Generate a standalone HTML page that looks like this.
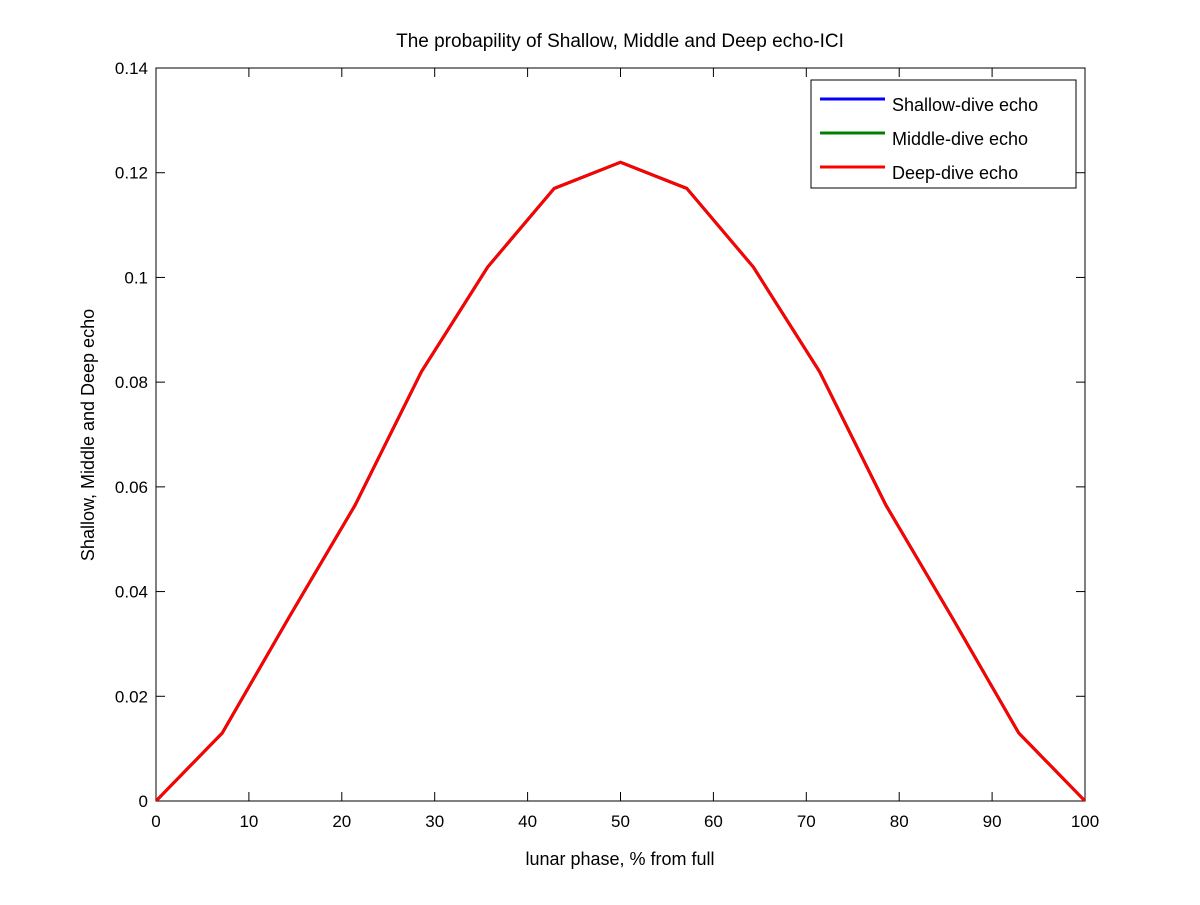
<!DOCTYPE html>
<html><head><meta charset="utf-8"><style>
body{margin:0;background:#fff;}
svg text{font-family:"Liberation Sans",sans-serif;fill:#000;}
</style></head><body>
<svg id="chart" width="1200" height="900">
<rect width="1200" height="900" fill="#fff"/>
<g id="plot"></g>
</svg>
<script>
const xVals=[0,3.57,7.14,14.29,21.43,28.57,35.71,42.86,50,57.14,64.29,71.43,78.57,85.71,92.86,96.43,100];
const shallow=[0,0.0065,0.013,0.035,0.0565,0.082,0.102,0.117,0.122,0.117,0.102,0.082,0.0565,0.035,0.013,0.0065,0];
const middle=shallow.slice();
const deep=shallow.slice();
const xTicks=[0,10,20,30,40,50,60,70,80,90,100];
const yTicks=[0,0.02,0.04,0.06,0.08,0.1,0.12,0.14];
const yTickLabels=["0","0.02","0.04","0.06","0.08","0.1","0.12","0.14"];
const seriesNames=["Shallow-dive echo","Middle-dive echo","Deep-dive echo"];
const seriesColors=["#0000ff","#008000","#ff0000"];

const L=156,R=1085,T=68,B=801;
const sx=v=>L+(v-0)/(100-0)*(R-L);
const sy=v=>B-(v-0)/(0.14-0)*(B-T);
const NS="http://www.w3.org/2000/svg";
const g=document.getElementById('plot');
function mk(tag,attrs,parent){const e=document.createElementNS(NS,tag);for(const k in attrs)e.setAttribute(k,attrs[k]);(parent||g).appendChild(e);return e;}

const frame=mk('rect',{x:L,y:T,width:R-L,height:B-T,fill:'#fff',stroke:'#000','stroke-width':1});



xTicks.forEach(t=>{
  const x=sx(t);
  const a=mk('line',{x1:x,x2:x,y1:B,y2:B-9,stroke:'#000'});
  
  
  mk('line',{x1:x,x2:x,y1:T,y2:T+9,stroke:'#000'});
  const tx=mk('text',{x:x,y:B+26,'text-anchor':'middle','font-size':17});
  tx.textContent=t;
  
  
});
yTicks.forEach((t,i)=>{
  const y=sy(t);
  const a=mk('line',{x1:L,x2:L+9,y1:y,y2:y,stroke:'#000'});
  
  
  mk('line',{x1:R,x2:R-9,y1:y,y2:y,stroke:'#000'});
  const tx=mk('text',{x:L-8,y:y+6,'text-anchor':'end','font-size':17});
  tx.textContent=yTickLabels[i];
  
  
});

[shallow,middle,deep].forEach((s,i)=>{
  const p=mk('polyline',{points:s.map((v,j)=>sx(xVals[j])+','+sy(v)).join(' '),fill:'none',stroke:seriesColors[i],'stroke-width':3,'stroke-linejoin':'round'});
  
  
});

const title=mk('text',{x:620,y:47,'text-anchor':'middle','font-size':19});
title.textContent='The probapility of Shallow, Middle and Deep echo-ICI';


const xt=mk('text',{x:620,y:865,'text-anchor':'middle','font-size':18});
xt.textContent='lunar phase, % from full';


const yt=mk('text',{x:0,y:0,'text-anchor':'middle','font-size':18,transform:'translate(94,435) rotate(-90)'});
yt.textContent='Shallow, Middle and Deep echo';



const lg=mk('g',{});


mk('rect',{x:811,y:80,width:265,height:108,fill:'#fff',stroke:'#000'},lg);
seriesNames.forEach((n,i)=>{
  const y=99+i*34;
  const e=mk('g',{},lg);
  
  
  mk('line',{x1:820,x2:885,y1:y,y2:y,stroke:seriesColors[i],'stroke-width':3},e);
  const t=mk('text',{x:892,y:y+12,'font-size':18},e);
  t.textContent=n;
});
</script>
</body></html>
